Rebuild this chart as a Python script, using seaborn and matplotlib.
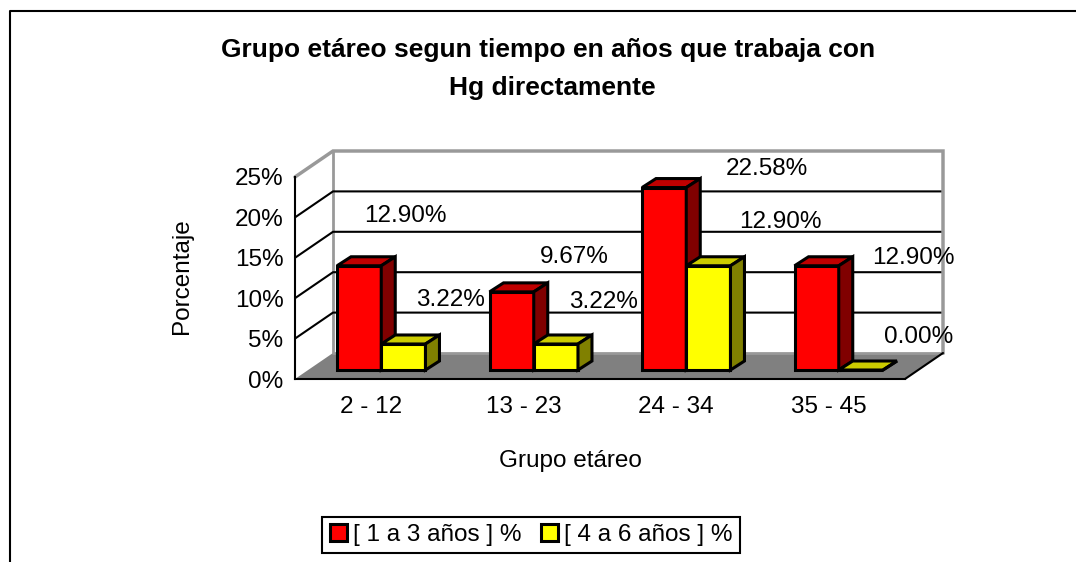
import matplotlib
matplotlib.use('Agg')
import matplotlib.pyplot as plt
import seaborn as sns
import pandas as pd
from matplotlib.patches import Polygon, Patch
from matplotlib.lines import Line2D

grupos = ['2 - 12', '13 - 23', '24 - 34', '35 - 45']
series = ['[ 1 a 3 años ] %', '[ 4 a 6 años ] %']
uno_a_tres = [12.90, 9.67, 22.58, 12.90]
cuatro_a_seis = [3.22, 3.22, 12.90, 0.00]
y_ticks = [0, 5, 10, 15, 20, 25]
y_labels = ['0%', '5%', '10%', '15%', '20%', '25%']

df = pd.DataFrame({
    'grupo': grupos * 2,
    'serie': [series[0]] * 4 + [series[1]] * 4,
    'pct': uno_a_tres + cuatro_a_seis,
})

sns.set_style('white')
plt.rcParams['font.family'] = ['Liberation Sans', 'DejaVu Sans']
plt.rcParams['text.color'] = 'black'
plt.rcParams['xtick.color'] = 'black'
plt.rcParams['ytick.color'] = 'black'
plt.rcParams['axes.labelcolor'] = 'black'
FS = 17.5

W, H = 1076, 562
fig = plt.figure(figsize=(W / 100, H / 100), dpi=100)
# front plane of the fake 3d box, in pixels
x0, x1, y0, y1 = 295, 905, 379, 177
ax = fig.add_axes([x0 / W, 1 - y0 / H, (x1 - x0) / W, (y0 - y1) / H])
ax.patch.set_alpha(0)

sns.barplot(data=df, x='grupo', y='pct', hue='serie', palette=['#ff0000', '#ffff00'],
            width=0.58, saturation=1, edgecolor='black', linewidth=2.2, ax=ax, legend=False)
bars = list(ax.patches)
ax.set_xlim(-0.5, 3.5)
ax.set_ylim(0, 25)

ppx = (x1 - x0) / 4
ppy = (y0 - y1) / 25


def off(dx, dy):
    # pixel offset -> data units
    return dx / ppx, dy / ppy


dx, dy = off(38, 26)      # full depth of the box
bx, by = off(10, 9)       # where the bars sit
tx, ty = off(14, 9)       # bar thickness

# back wall, floor, grid
ax.add_patch(Polygon([(-0.5 + dx, dy), (3.5 + dx, dy), (3.5 + dx, 25 + dy), (-0.5 + dx, 25 + dy)],
                     facecolor='white', edgecolor='none', zorder=0, clip_on=False))
ax.add_patch(Polygon([(-0.5, 0), (3.5, 0), (3.5 + dx, dy), (-0.5 + dx, dy)],
                     facecolor='#808080', edgecolor='none', zorder=0.5, clip_on=False))
for v in y_ticks[1:-1]:
    ax.plot([-0.5, -0.5 + dx, 3.5 + dx], [v, v + dy, v + dy], color='black', lw=1.5,
            zorder=1, clip_on=False)
ax.plot([-0.5, -0.5 + dx, 3.5 + dx, 3.5 + dx], [25, 25 + dy, 25 + dy, dy], color='#999999',
        lw=2.5, zorder=1, clip_on=False, solid_joinstyle='miter')
ax.plot([-0.5 + dx, -0.5 + dx, 3.5 + dx], [25 + dy, dy, dy], color='#999999', lw=2,
        zorder=0.8, clip_on=False)
ax.plot([3.5, 3.5 + dx], [0, dy], color='black', lw=1.5, zorder=2, clip_on=False)

# 3d faces of the bars
tops = ['#c00000', '#cccc00']
sides = ['#800000', '#808000']
label_off = [(46, 50), (63, 35), (103, 19), (97, 8),
             (47, 44), (48, 42), (72, 44), (58, 33)]
for i, bar in enumerate(bars):
    s = 0 if i < 4 else 1
    z = 3 + s
    left = bar.get_x() + bx
    w = bar.get_width()
    h = bar.get_height()
    bar.set_x(left)
    bar.set_y(by)
    bar.set_zorder(z)
    bar.set_clip_on(False)
    top = by + h
    ax.add_patch(Polygon([(left, top), (left + w, top), (left + w + tx, top + ty), (left + tx, top + ty)],
                         facecolor=tops[s], edgecolor='black', lw=2.2, zorder=z, clip_on=False))
    ax.add_patch(Polygon([(left + w, by), (left + w + tx, by + ty), (left + w + tx, top + ty), (left + w, top)],
                         facecolor=sides[s], edgecolor='black', lw=2.2, zorder=z, clip_on=False))
    ox, oy = label_off[i]
    ax.annotate(f'{h:.2f}%', xy=(left + w / 2, top), xytext=(ox * 0.72, oy * 0.72),
                textcoords='offset points', ha='center', va='center', fontsize=FS, zorder=6)

# axes lines and ticks
for sp in ['top', 'right']:
    ax.spines[sp].set_visible(False)
for sp in ['left', 'bottom']:
    ax.spines[sp].set_color('black')
    ax.spines[sp].set_linewidth(1.5)
    ax.spines[sp].set_zorder(2)
ax.set_yticks(y_ticks)
ax.set_yticklabels(y_labels)
ax.set_xticks([-0.5, 0.5, 1.5, 2.5, 3.5])
ax.set_xticklabels([])
ax.set_xticks(range(4), minor=True)
ax.set_xticklabels(grupos, minor=True)
ax.tick_params(axis='both', which='major', direction='out', length=4.3, width=1.5,
               color='black', labelsize=FS, pad=4)
ax.tick_params(axis='x', which='minor', length=0, labelsize=FS, pad=12)
ax.set_xlabel('')
ax.set_ylabel('')

fig.text(182 / W, 1 - 276 / H, 'Porcentaje', rotation=90, ha='center', va='center', fontsize=FS)
fig.text(570 / W, 1 - 461 / H, 'Grupo etáreo', ha='center', va='center', fontsize=FS)
fig.text(548 / W, 1 - 50 / H, 'Grupo etáreo segun tiempo en años que trabaja con',
         ha='center', va='center', fontsize=19, fontweight='bold')
fig.text(552 / W, 1 - 88 / H, 'Hg directamente',
         ha='center', va='center', fontsize=19, fontweight='bold')

handles = [Patch(facecolor='#ff0000', edgecolor='black', lw=2.2, label=series[0]),
           Patch(facecolor='#ffff00', edgecolor='black', lw=2.2, label=series[1])]
leg = fig.legend(handles=handles, loc='center', bbox_to_anchor=(531 / W, 1 - 535 / H), ncol=2,
                 frameon=True, fancybox=False, edgecolor='black', framealpha=1,
                 handlelength=0.7, handleheight=0.7, handletextpad=0.25,
                 columnspacing=0.8, borderpad=0.3, fontsize=FS)
leg.get_frame().set_linewidth(1.5)

# chart area border
fig.add_artist(Line2D([10 / W, 10 / W, 1], [0, 1 - 11 / H, 1 - 11 / H],
                      transform=fig.transFigure, color='black', lw=1.5))

fig.savefig('out.png', dpi=100)
